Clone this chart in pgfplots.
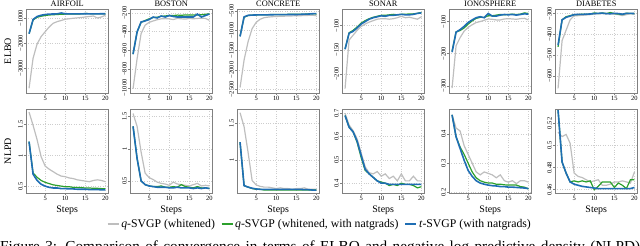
\documentclass[border=0pt]{standalone}
\usepackage{fontspec}
\setmainfont{Liberation Serif}
\usepackage{pgfplots}
\pgfplotsset{compat=1.18}
\definecolor{cgrey}{RGB}{190,190,190}
\definecolor{cgreen}{RGB}{44,160,44}
\definecolor{cblue}{RGB}{31,110,180}
\definecolor{framec}{RGB}{128,128,128}
\definecolor{gridc}{RGB}{205,205,205}
\pgfplotsset{
  panel/.style={scale only axis, width=82.5bp, height=84bp,
    xmin=0.24, xmax=20.76, xtick={5,10,15,20}, xticklabels={5,10,15,20},
    grid=major, major grid style={dotted, gridc, line width=0.5bp},
    axis line style={framec, line width=0.6bp},
    tick style={framec, line width=0.5bp}, tick align=outside, major tick length=2bp,
    tick pos=left,
    ticklabel style={font=\fontsize{6.5}{7}\selectfont, inner sep=1bp, text=black},
    yticklabel style={rotate=90, anchor=south},
    every axis title/.style={font=\fontsize{8.4}{9}\selectfont, at={(0.5,1)}, anchor=base, yshift=2.2bp, inner sep=0pt},
    every axis y label/.style={at={(axis description cs:-0.22,0.5)}, rotate=90, anchor=center, font=\fontsize{10}{12}\selectfont},
    every axis x label/.style={at={(axis description cs:0.5,-0.2)}, anchor=center, font=\fontsize{10}{12}\selectfont},
    no markers},
  sg/.style={color=cgrey, line width=1.2bp},
  sgr/.style={color=cgreen, line width=1.2bp},
  sb/.style={color=cblue, line width=1.6bp},
}
\begin{document}
\begin{tikzpicture}
\path[use as bounding box] (0,0) rectangle (640bp,246bp);
% ---------------- ELBO row ----------------
\begin{axis}[panel, at={(26bp,237bp)}, anchor=north west, title={AIRFOIL}, ylabel={ELBO},
  ymin=-3990, ymax=-630, ytick={-4000,-3000,-2000,-1000}, yticklabels={−4000,−3000,−2000,−1000}]
\addplot[sg] coordinates {(1,-3800)(2,-2600)(3,-2030)(4,-1735)(5,-1540)(6,-1350)(7,-1200)(8,-1135)(9,-1090)(10,-1040)(11,-1020)(12,-1000)(13,-985)(14,-970)(15,-950)(16,-930)(17,-910)(18,-990)(19,-950)(20,-880)};
\addplot[sgr] coordinates {(1,-1620)(2,-1070)(3,-960)(4,-920)(5,-890)(6,-870)(7,-860)(8,-850)(9,-840)(10,-835)(11,-830)(12,-830)(13,-830)(14,-825)(15,-812)(16,-815)(17,-825)(18,-825)(19,-825)(20,-820)};
\addplot[sb] coordinates {(1,-1620)(2,-1050)(3,-930)(4,-880)(5,-850)(6,-835)(7,-830)(8,-825)(9,-790)(10,-820)(11,-825)(12,-825)(13,-825)(14,-825)(15,-820)(16,-825)(17,-825)(18,-825)(19,-820)(20,-820)};
\end{axis}
\begin{axis}[panel, at={(130bp,237bp)}, anchor=north west, title={BOSTON},
  ymin=-1056, ymax=-157, ytick={-1000,-800,-600,-400,-200}, yticklabels={−1000,−800,−600,−400,−200}]
\addplot[sg] coordinates {(1,-1010)(2,-690)(3,-420)(4,-330)(5,-300)(6,-285)(7,-272)(8,-262)(9,-260)(10,-263)(11,-270)(12,-258)(13,-262)(14,-265)(15,-258)(16,-262)(17,-258)(18,-255)(19,-258)(20,-278)};
\addplot[sgr] coordinates {(1,-640)(2,-403)(3,-300)(4,-280)(5,-262)(6,-248)(7,-245)(8,-235)(9,-232)(10,-225)(11,-228)(12,-222)(13,-225)(14,-220)(15,-222)(16,-220)(17,-222)(18,-218)(19,-214)(20,-208)};
\addplot[sb] coordinates {(1,-640)(2,-403)(3,-296)(4,-285)(5,-270)(6,-243)(7,-253)(8,-232)(9,-243)(10,-227)(11,-237)(12,-243)(13,-243)(14,-243)(15,-243)(16,-243)(17,-211)(18,-243)(19,-227)(20,-211)};
\end{axis}
\begin{axis}[panel, at={(237bp,237bp)}, anchor=north west, title={CONCRETE},
  ymin=-2590, ymax=-449, ytick={-2500,-2000,-1500,-1000,-500}, yticklabels={−2500,−2000,−1500,−1000,−500}]
\addplot[sg] coordinates {(1,-2450)(2,-1750)(3,-1280)(4,-950)(5,-790)(6,-710)(7,-670)(8,-655)(9,-645)(10,-640)(11,-635)(12,-632)(13,-628)(14,-625)(15,-622)(16,-620)(17,-615)(18,-612)(19,-608)(20,-620)};
\addplot[sgr] coordinates {(1,-1140)(2,-660)(3,-615)(4,-605)(5,-600)(6,-598)(7,-596)(8,-593)(9,-590)(10,-588)(11,-590)(12,-588)(13,-585)(14,-585)(15,-584)(16,-582)(17,-580)(18,-575)(19,-570)(20,-575)};
\addplot[sb] coordinates {(1,-1150)(2,-650)(3,-610)(4,-605)(5,-600)(6,-600)(7,-600)(8,-597)(9,-595)(10,-593)(11,-592)(12,-592)(13,-590)(14,-588)(15,-590)(16,-585)(17,-580)(18,-578)(19,-570)(20,-565)};
\end{axis}
\begin{axis}[panel, at={(342bp,237bp)}, anchor=north west, title={SONAR},
  ymin=-239, ymax=-66, ytick={-200,-150,-100}, yticklabels={−200,−150,−100}]
\addplot[sg] coordinates {(1,-230)(2,-130)(3,-120)(4,-110)(5,-102)(6,-97)(7,-93)(8,-90)(9,-87)(10,-86)(11,-86)(12,-87)(13,-86)(14,-84)(15,-81)(16,-84)(17,-83)(18,-85)(19,-87)(20,-82)};
\addplot[sgr] coordinates {(1,-148)(2,-115)(3,-110)(4,-103)(5,-95)(6,-90)(7,-86)(8,-83)(9,-81)(10,-79)(11,-79)(12,-78)(13,-77)(14,-78)(15,-77)(16,-77)(17,-76)(18,-76)(19,-75)(20,-73)};
\addplot[sb] coordinates {(1,-149)(2,-116)(3,-112)(4,-105)(5,-97)(6,-92)(7,-87)(8,-84)(9,-82)(10,-80)(11,-81)(12,-79)(13,-79)(14,-78)(15,-77)(16,-78)(17,-78)(18,-77)(19,-75)(20,-74)};
\end{axis}
\begin{axis}[panel, at={(449bp,237bp)}, anchor=north west, title={IONOSPHERE},
  ymin=-322, ymax=-61, ytick={-300,-200,-100}, yticklabels={−300,−200,−100}]
\addplot[sg] coordinates {(1,-307)(2,-175)(3,-150)(4,-130)(5,-118)(6,-110)(7,-103)(8,-100)(9,-96)(10,-92)(11,-93)(12,-95)(13,-95)(14,-92)(15,-91)(16,-92)(17,-93)(18,-91)(19,-90)(20,-95)};
\addplot[sgr] coordinates {(1,-192)(2,-132)(3,-128)(4,-120)(5,-108)(6,-98)(7,-90)(8,-87)(9,-87)(10,-82)(11,-82)(12,-80)(13,-78)(14,-79)(15,-78)(16,-77)(17,-78)(18,-77)(19,-73)(20,-75)};
\addplot[sb] coordinates {(1,-195)(2,-133)(3,-125)(4,-115)(5,-103)(6,-95)(7,-88)(8,-85)(9,-88)(10,-75)(11,-83)(12,-83)(13,-80)(14,-78)(15,-79)(16,-78)(17,-80)(18,-78)(19,-76)(20,-77)};
\end{axis}
\begin{axis}[panel, at={(555bp,237bp)}, anchor=north west, title={DIABETES},
  ymin=-682, ymax=-278, ytick={-600,-500,-400,-300}, yticklabels={−600,−500,−400,−300}]
\addplot[sg] coordinates {(1,-660)(2,-430)(3,-380)(4,-330)(5,-310)(6,-310)(7,-308)(8,-307)(9,-305)(10,-302)(11,-301)(12,-300)(13,-302)(14,-300)(15,-303)(16,-305)(17,-310)(18,-305)(19,-300)(20,-302)};
\addplot[sgr] coordinates {(1,-460)(2,-330)(3,-315)(4,-310)(5,-305)(6,-305)(7,-303)(8,-304)(9,-302)(10,-297)(11,-300)(12,-297)(13,-300)(14,-295)(15,-300)(16,-302)(17,-305)(18,-298)(19,-300)(20,-300)};
\addplot[sb] coordinates {(1,-452)(2,-330)(3,-318)(4,-312)(5,-305)(6,-304)(7,-304)(8,-303)(9,-302)(10,-300)(11,-299)(12,-298)(13,-300)(14,-301)(15,-299)(16,-300)(17,-303)(18,-299)(19,-299)(20,-300)};
\end{axis}
% ---------------- NLPD row ----------------
\begin{axis}[panel, at={(26bp,137bp)}, anchor=north west, ylabel={NLPD}, xlabel={Steps},
  ymin=0.40, ymax=1.74, ytick={0.5,1,1.5}, yticklabels={0.5,1,1.5}]
\addplot[sg] coordinates {(1,1.69)(2,1.48)(3,1.25)(4,0.98)(5,0.83)(6,0.78)(7,0.74)(8,0.70)(9,0.67)(10,0.66)(11,0.64)(12,0.63)(13,0.61)(14,0.60)(15,0.59)(16,0.58)(17,0.60)(18,0.61)(19,0.60)(20,0.58)};
\addplot[sgr] coordinates {(1,1.22)(2,0.72)(3,0.65)(4,0.60)(5,0.57)(6,0.55)(7,0.53)(8,0.52)(9,0.51)(10,0.50)(11,0.50)(12,0.49)(13,0.49)(14,0.485)(15,0.48)(16,0.48)(17,0.475)(18,0.475)(19,0.47)(20,0.47)};
\addplot[sb] coordinates {(1,1.22)(2,0.70)(3,0.60)(4,0.54)(5,0.51)(6,0.49)(7,0.48)(8,0.48)(9,0.47)(10,0.47)(11,0.465)(12,0.465)(13,0.46)(14,0.46)(15,0.46)(16,0.455)(17,0.455)(18,0.455)(19,0.45)(20,0.45)};
\end{axis}
\begin{axis}[panel, at={(130bp,137bp)}, anchor=north west, xlabel={Steps},
  ymin=0.31, ymax=1.62, ytick={0.5,1,1.5}, yticklabels={0.5,1,1.5}]
\addplot[sg] coordinates {(1,1.55)(2,1.35)(3,0.95)(4,0.62)(5,0.55)(6,0.52)(7,0.48)(8,0.46)(9,0.45)(10,0.43)(11,0.48)(12,0.45)(13,0.44)(14,0.43)(15,0.42)(16,0.44)(17,0.46)(18,0.42)(19,0.43)(20,0.42)};
\addplot[sgr] coordinates {(1,1.35)(2,0.85)(3,0.50)(4,0.44)(5,0.42)(6,0.41)(7,0.41)(8,0.42)(9,0.40)(10,0.40)(11,0.41)(12,0.40)(13,0.44)(14,0.41)(15,0.40)(16,0.39)(17,0.41)(18,0.39)(19,0.39)(20,0.38)};
\addplot[sb] coordinates {(1,1.35)(2,0.85)(3,0.50)(4,0.44)(5,0.42)(6,0.41)(7,0.40)(8,0.40)(9,0.40)(10,0.39)(11,0.39)(12,0.40)(13,0.39)(14,0.39)(15,0.39)(16,0.38)(17,0.39)(18,0.38)(19,0.39)(20,0.38)};
\end{axis}
\begin{axis}[panel, at={(237bp,137bp)}, anchor=north west, xlabel={Steps},
  ymin=0.55, ymax=1.69, ytick={1,1.5}, yticklabels={1,1.5},
  legend columns=3,
  legend style={at={(axis description cs:1.006,-0.369)}, anchor=center, draw=none, fill=none,
    font=\fontsize{11.8}{13}\selectfont, inner sep=0pt,
    /tikz/every even column/.append style={column sep=4bp}},
  legend image code/.code={\draw[#1] (0bp,0bp) -- (11bp,0bp);}]
\addplot[sg] coordinates {(1,1.64)(2,1.45)(3,1.10)(4,0.72)(5,0.66)(6,0.64)(7,0.63)(8,0.63)(9,0.62)(10,0.61)(11,0.62)(12,0.61)(13,0.61)(14,0.60)(15,0.61)(16,0.61)(17,0.62)(18,0.60)(19,0.60)(20,0.60)};
\addlegendentry{\textit{q}-SVGP (whitened)}
\addplot[sgr] coordinates {(1,1.24)(2,0.65)(3,0.63)(4,0.61)(5,0.60)(6,0.60)(7,0.59)(8,0.59)(9,0.59)(10,0.59)(11,0.59)(12,0.59)(13,0.59)(14,0.59)(15,0.59)(16,0.59)(17,0.59)(18,0.59)(19,0.59)(20,0.59)};
\addlegendentry{\textit{q}-SVGP (whitened, with natgrads)}
\addplot[sb] coordinates {(1,1.24)(2,0.65)(3,0.63)(4,0.615)(5,0.605)(6,0.60)(7,0.60)(8,0.60)(9,0.60)(10,0.60)(11,0.60)(12,0.60)(13,0.60)(14,0.60)(15,0.60)(16,0.60)(17,0.595)(18,0.595)(19,0.59)(20,0.59)};
\addlegendentry{\textit{t}-SVGP (with natgrads)}
\end{axis}
\begin{axis}[panel, at={(342bp,137bp)}, anchor=north west, xlabel={Steps},
  ymin=0.358, ymax=0.718, ytick={0.4,0.5,0.6,0.7}, yticklabels={0.4,0.5,0.6,0.7}]
\addplot[sg] coordinates {(1,0.70)(2,0.65)(3,0.625)(4,0.59)(5,0.53)(6,0.47)(7,0.445)(8,0.44)(9,0.45)(10,0.43)(11,0.44)(12,0.42)(13,0.43)(14,0.41)(15,0.44)(16,0.41)(17,0.41)(18,0.43)(19,0.41)(20,0.41)};
\addplot[sgr] coordinates {(1,0.69)(2,0.64)(3,0.62)(4,0.575)(5,0.51)(6,0.455)(7,0.44)(8,0.425)(9,0.41)(10,0.405)(11,0.40)(12,0.39)(13,0.395)(14,0.39)(15,0.40)(16,0.395)(17,0.395)(18,0.39)(19,0.38)(20,0.385)};
\addplot[sb] coordinates {(1,0.69)(2,0.64)(3,0.62)(4,0.58)(5,0.52)(6,0.46)(7,0.44)(8,0.425)(9,0.41)(10,0.40)(11,0.40)(12,0.395)(13,0.395)(14,0.395)(15,0.395)(16,0.395)(17,0.395)(18,0.395)(19,0.395)(20,0.395)};
\end{axis}
\begin{axis}[panel, at={(449bp,137bp)}, anchor=north west, xlabel={Steps},
  ymin=0.198, ymax=0.485, ytick={0.2,0.3,0.4}, yticklabels={0.2,0.3,0.4}]
\addplot[sg] coordinates {(1,0.465)(2,0.42)(3,0.41)(4,0.36)(5,0.33)(6,0.30)(7,0.27)(8,0.26)(9,0.27)(10,0.265)(11,0.26)(12,0.25)(13,0.26)(14,0.24)(15,0.235)(16,0.24)(17,0.23)(18,0.24)(19,0.24)(20,0.235)};
\addplot[sgr] coordinates {(1,0.465)(2,0.39)(3,0.355)(4,0.33)(5,0.30)(6,0.27)(7,0.25)(8,0.24)(9,0.235)(10,0.232)(11,0.232)(12,0.228)(13,0.228)(14,0.226)(15,0.225)(16,0.225)(17,0.225)(18,0.22)(19,0.218)(20,0.212)};
\addplot[sb] coordinates {(1,0.465)(2,0.39)(3,0.35)(4,0.31)(5,0.275)(6,0.255)(7,0.24)(8,0.232)(9,0.228)(10,0.225)(11,0.223)(12,0.222)(13,0.22)(14,0.22)(15,0.218)(16,0.218)(17,0.217)(18,0.216)(19,0.215)(20,0.213)};
\end{axis}
\begin{axis}[panel, at={(555bp,137bp)}, anchor=north west, xlabel={Steps},
  ymin=0.457, ymax=0.533, ytick={0.46,0.48,0.5,0.52}, yticklabels={0.46,0.48,0.5,0.52}]
\addplot[sg] coordinates {(1,0.512)(2,0.508)(3,0.51)(4,0.502)(5,0.475)(6,0.472)(7,0.471)(8,0.469)(9,0.467)(10,0.468)(11,0.469)(12,0.464)(13,0.464)(14,0.465)(15,0.467)(16,0.467)(17,0.468)(18,0.467)(19,0.466)(20,0.476)};
\addplot[sgr] coordinates {(1,0.532)(2,0.485)(3,0.475)(4,0.467)(5,0.468)(6,0.467)(7,0.468)(8,0.467)(9,0.468)(10,0.460)(11,0.463)(12,0.467)(13,0.467)(14,0.467)(15,0.462)(16,0.466)(17,0.464)(18,0.461)(19,0.469)(20,0.469)};
\addplot[sb] coordinates {(1,0.532)(2,0.485)(3,0.475)(4,0.467)(5,0.465)(6,0.464)(7,0.463)(8,0.4625)(9,0.462)(10,0.4615)(11,0.461)(12,0.461)(13,0.461)(14,0.461)(15,0.461)(16,0.461)(17,0.461)(18,0.461)(19,0.461)(20,0.462)};
\end{axis}
\node[anchor=base west, inner sep=0pt, font=\fontsize{15.3}{18}\selectfont] at (0bp,-5bp)
  {\makebox[640bp][s]{Figure 3: Comparison of convergence in terms of ELBO and negative log predictive density (NLPD)}};
\end{tikzpicture}
\end{document}
